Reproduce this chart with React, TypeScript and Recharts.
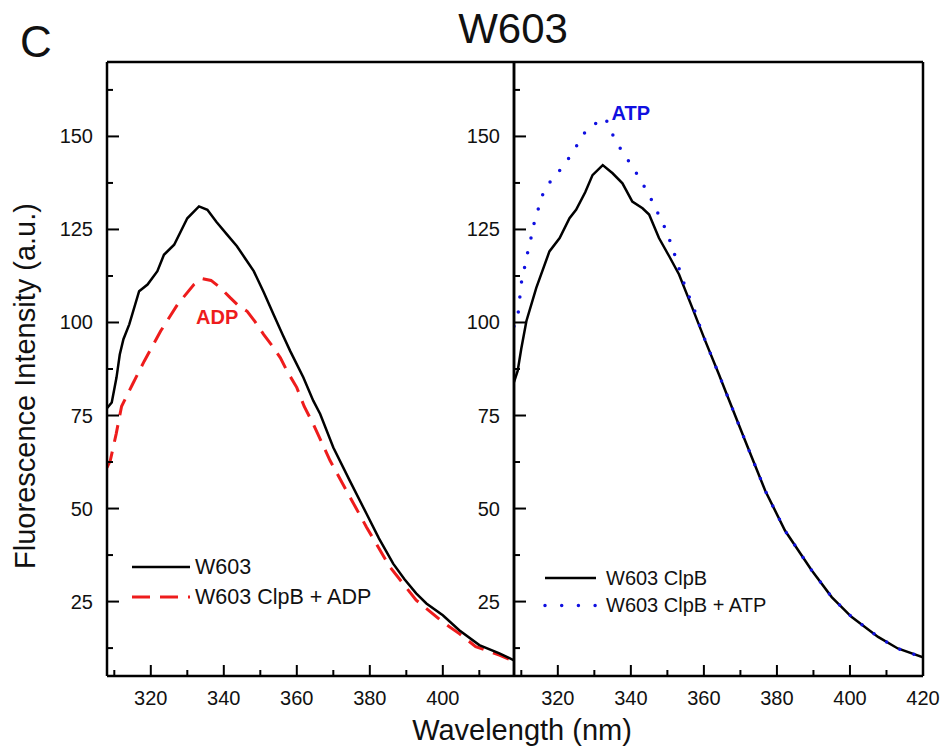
import React from 'react';
import { LineChart, Line, XAxis, YAxis, ReferenceDot } from 'recharts';

// ---------- data ----------
const leftW603Wl = [308, 309.3, 310.6, 311.5, 312.5, 314.1, 316.8, 319.1, 321.8, 323.6, 326.4, 330, 333.2, 335.5, 338, 340.9, 343.6, 346, 348.2, 351, 353.6, 356, 358.2, 361.8, 364.5, 366.4, 370, 374.5, 379.1, 382.5, 386.4, 389.5, 392.7, 395.5, 400, 404.5, 410, 415.5, 419.5];
const leftW603Val = [77, 78.5, 85.2, 91.4, 95.5, 99.5, 108.4, 110.2, 113.8, 118.2, 120.9, 128, 131.2, 130.3, 127, 123.6, 120.5, 117, 113.8, 108, 102.2, 97, 92.3, 85.2, 79, 75.4, 66.4, 57.5, 48.6, 42, 35.2, 31, 27.2, 24.5, 21.3, 17.3, 13.3, 11.1, 9.2];

const leftAdpWl = [308, 308.9, 310.5, 312, 315, 318.2, 322.7, 327.3, 331.8, 334.1, 336.5, 339.1, 341.8, 344, 346.4, 348.5, 350.9, 353.2, 355.5, 357.3, 360, 362, 364.5, 369.1, 373.6, 379.1, 385.5, 392.7, 400, 404.5, 409, 415.5, 419.5];
const leftAdpVal = [61, 62.9, 70, 77.5, 83.4, 89.6, 97.7, 104.8, 110.2, 111.8, 111.3, 109.3, 106.6, 104.5, 103, 100.3, 96.8, 93.8, 90.5, 87, 82.5, 77.5, 72.7, 62.9, 54.8, 45, 34.3, 25.4, 19.5, 16.4, 12.9, 10.6, 9];

const rightClpBWl = [308, 309, 310, 311.4, 314.1, 317.7, 320.5, 323.2, 325, 327.5, 329.5, 332.3, 335, 337.7, 340.4, 343.2, 345, 347.7, 350.5, 353.2, 356.8, 360.4, 364.1, 365.9, 371.3, 376.8, 382.2, 389.5, 395, 400.4, 407.7, 413.1, 420];
const rightClpBVal = [84, 87, 93, 100.4, 109.3, 119.1, 122.7, 128, 130.3, 135, 139.6, 142.3, 140.1, 137.4, 132.5, 130.7, 129, 122.7, 117.8, 112.9, 104, 95, 86.1, 81.6, 68.2, 54.8, 44.1, 33.4, 26.2, 20.9, 15.5, 12.4, 10];

const rightAtpWl = [308, 309.1, 310, 311.8, 312.8, 313.7, 315, 316.4, 319.7, 322.5, 325.3, 328, 331.4, 333, 335, 337.4, 340.2, 342.9, 345.3, 347.4, 349.5, 351.1, 352.5, 353.8, 355.3, 357.1, 358.6, 360.4, 364.1, 365.9, 371.3, 376.8, 382.2, 389.5, 395, 400.4, 407.7, 413.1, 420];
const rightAtpVal = [99, 102.1, 110.6, 119.1, 123.3, 127.6, 131.6, 136.1, 139.8, 143.4, 147.7, 152, 154.1, 155, 150.5, 146.3, 142.2, 137.9, 133.7, 129.4, 125.1, 120.9, 116.7, 112.6, 108.4, 104.3, 99.8, 95, 86.1, 81.6, 68.2, 54.8, 44.1, 33.4, 26.2, 20.9, 15.5, 12.4, 10];

const leftXTicks = [310, 320, 330, 340, 350, 360, 370, 380, 390, 400, 410];
const rightXTicks = [310, 320, 330, 340, 350, 360, 370, 380, 390, 400, 410, 420];
const yTicks = [12.5, 25, 37.5, 50, 62.5, 75, 87.5, 100, 112.5, 125, 137.5, 150, 162.5];
const leftXDomain = [308, 419.5];
const rightXDomain = [308, 420];
const yDomain = [5, 170];

const toPoints = (wl: number[], v: number[]) => wl.map((x, i) => ({ x, y: v[i] }));
const leftW603 = toPoints(leftW603Wl, leftW603Val);
const leftAdp = toPoints(leftAdpWl, leftAdpVal);
const rightClpB = toPoints(rightClpBWl, rightClpBVal);
const rightAtp = toPoints(rightAtpWl, rightAtpVal);

// ---------- layout ----------
const W = 945;
const H = 753;
const TOP = 62;
const BOTTOM = 676;
const L1 = 107;
const R1 = 514;
const R2 = 923;
const FONT = "Arial, 'Liberation Sans', sans-serif";
const AXW = 2.5;

const XTick = (props: any) => {
  const { x, y, payload } = props;
  const v = payload.value;
  const major = v % 20 === 0;
  return (
    <g>
      <line x1={x} x2={x} y1={y} y2={y - (major ? 11 : 6)} stroke="#000" strokeWidth={2} />
      {major && (
        <text x={x} y={y + 29} textAnchor="middle" fontSize={20} fontFamily={FONT} fill="#111">
          {v}
        </text>
      )}
    </g>
  );
};

const YTick = (props: any) => {
  const { x, y, payload } = props;
  const v = payload.value;
  const major = v % 25 === 0;
  return (
    <g>
      <line x1={x} x2={x + (major ? 12 : 6)} y1={y} y2={y} stroke="#000" strokeWidth={2} />
      {major && (
        <text x={x - 14} y={y + 7} textAnchor="end" fontSize={20} fontFamily={FONT} fill="#111">
          {v}
        </text>
      )}
    </g>
  );
};

const Panel = ({ left, right, xDomain, xTicks, children }: any) => (
  <LineChart
    width={W}
    height={H}
    margin={{ top: TOP - 1, bottom: H - BOTTOM - 1, left: left - 1, right: right - 1 }}
    style={{ position: 'absolute', left: 0, top: 0 }}
  >
    <XAxis
      type="number"
      dataKey="x"
      domain={xDomain}
      ticks={xTicks}
      interval={0}
      allowDataOverflow
      height={1}
      tickSize={0}
      tickMargin={0}
      tickLine={false}
      tick={<XTick />}
      axisLine={{ stroke: '#000', strokeWidth: AXW }}
    />
    <XAxis
      xAxisId="top"
      orientation="top"
      type="number"
      domain={xDomain}
      allowDataOverflow
      height={1}
      tick={false}
      tickLine={false}
      axisLine={{ stroke: '#000', strokeWidth: AXW }}
    />
    <YAxis
      type="number"
      dataKey="y"
      domain={yDomain}
      ticks={yTicks}
      interval={0}
      allowDataOverflow
      width={1}
      tickSize={0}
      tickMargin={0}
      tickLine={false}
      tick={<YTick />}
      axisLine={{ stroke: '#000', strokeWidth: AXW }}
    />
    <YAxis
      yAxisId="right"
      orientation="right"
      type="number"
      domain={yDomain}
      allowDataOverflow
      width={1}
      tick={false}
      tickLine={false}
      axisLine={{ stroke: '#000', strokeWidth: AXW }}
    />
    {children}
  </LineChart>
);

export default function App() {
  return (
    <div style={{ position: 'absolute', left: 0, top: 0, width: W, height: H, background: '#fff', fontFamily: FONT }}>
      <Panel left={L1} right={W - R1} xDomain={leftXDomain} xTicks={leftXTicks}>
        <Line data={leftAdp} dataKey="y" type="linear" stroke="#ee1c1c" strokeWidth={3} strokeDasharray="17 10" dot={false} isAnimationActive={false} />
        <Line data={leftW603} dataKey="y" type="linear" stroke="#000" strokeWidth={2.5} dot={false} isAnimationActive={false} />
        <ReferenceDot
          x={338.2}
          y={101.6}
          r={0}
          fill="none"
          stroke="none"
          label={{ value: 'ADP', position: 'center', fill: '#ee1c1c', fontWeight: 'bold', fontSize: 20, fontFamily: FONT }}
        />
      </Panel>
      <Panel left={R1} right={W - R2} xDomain={rightXDomain} xTicks={rightXTicks}>
        <Line data={rightClpB} dataKey="y" type="linear" stroke="#000" strokeWidth={2.5} dot={false} isAnimationActive={false} />
        <Line data={rightAtp} dataKey="y" type="linear" stroke="#1010e0" strokeWidth={3.5} strokeLinecap="round" strokeDasharray="0 15" dot={false} isAnimationActive={false} />
        <ReferenceDot
          x={340}
          y={156.3}
          r={0}
          fill="none"
          stroke="none"
          label={{ value: 'ATP', position: 'center', fill: '#1010e0', fontWeight: 'bold', fontSize: 20, fontFamily: FONT }}
        />
      </Panel>
      <svg width={W} height={H} style={{ position: 'absolute', left: 0, top: 0, pointerEvents: 'none' }} fontFamily={FONT}>
        <text x={20} y={57} fontSize={44} fill="#111">C</text>
        <text x={513} y={43} fontSize={42} textAnchor="middle" fill="#111">W603</text>
        <text x={522} y={740} fontSize={29} textAnchor="middle" fill="#111">Wavelength (nm)</text>
        <text x={35} y={386} fontSize={29} textAnchor="middle" fill="#111" transform="rotate(-90 35 386)">
          Fluorescence Intensity (a.u.)
        </text>
        {/* left legend */}
        <line x1={132} x2={190} y1={567} y2={567} stroke="#000" strokeWidth={2.5} />
        <text x={195} y={574} fontSize={21.5} fill="#111">W603</text>
        <line x1={132} x2={190} y1={597} y2={597} stroke="#ee1c1c" strokeWidth={3} strokeDasharray="18 10" />
        <text x={195} y={604} fontSize={21.5} fill="#111">W603 ClpB + ADP</text>
        {/* right legend */}
        <line x1={545} x2={596} y1={578} y2={578} stroke="#000" strokeWidth={2.5} />
        <text x={606} y={585} fontSize={20} fill="#111">W603 ClpB</text>
        <line x1={545} x2={596} y1={605.5} y2={605.5} stroke="#1010e0" strokeWidth={3.5} strokeLinecap="round" strokeDasharray="0 16.7" />
        <text x={606} y={612} fontSize={20} fill="#111">W603 ClpB + ATP</text>
      </svg>
    </div>
  );
}
